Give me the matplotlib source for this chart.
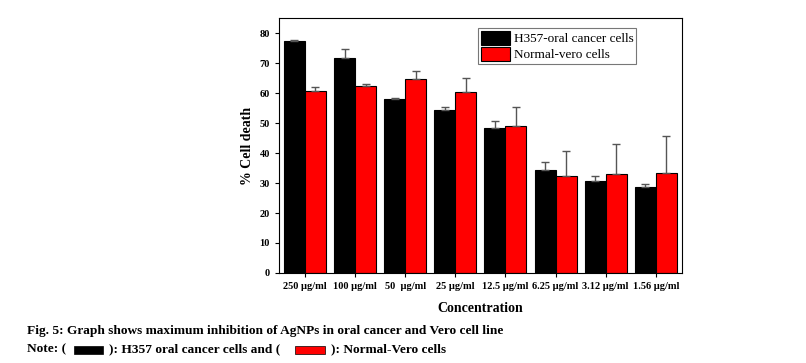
import numpy as np
import matplotlib.pyplot as plt
from matplotlib.patches import Rectangle

# Данные
concentrations = ['250 µg/ml', '100 µg/ml', '50  µg/ml', '25 µg/ml', '12.5 µg/ml',
                  '6.25 µg/ml', '3.12 µg/ml', '1.56 µg/ml']
h357 = [77.3, 71.6, 57.9, 54.2, 48.3, 34.2, 30.7, 28.8]
h357_err = [0.3, 3.2, 0.6, 1.3, 2.4, 2.7, 1.5, 0.8]
vero = [60.8, 62.3, 64.8, 60.3, 48.9, 32.4, 32.9, 33.4]
vero_err = [1.2, 0.6, 2.6, 4.6, 6.4, 8.3, 10.1, 12.3]

plt.rcParams['font.family'] = ['Liberation Serif', 'DejaVu Serif']
plt.rcParams['font.weight'] = 'bold'

fig = plt.figure(figsize=(8.06, 3.63), dpi=100)
ax = fig.add_axes([0.346, 0.248, 0.5, 0.702])

x = np.arange(len(concentrations))
w = 0.42
err_kw = dict(ecolor='#555555', elinewidth=1, capsize=3, capthick=1)

ax.bar(x - w / 2, h357, w, yerr=[np.zeros(len(h357)), h357_err], color='black',
       edgecolor='black', linewidth=0.8, error_kw=err_kw, label='H357-oral cancer cells')
ax.bar(x + w / 2, vero, w, yerr=[np.zeros(len(vero)), vero_err], color='#ff0000',
       edgecolor='black', linewidth=0.8, error_kw=err_kw, label='Normal-vero cells')

ax.set_xlim(-0.52, len(concentrations) - 0.48)
ax.set_ylim(0, 85)
ax.set_yticks(range(0, 81, 10))
ax.set_xticks(x)
ax.set_xticklabels(concentrations, fontsize=7.5, fontweight='bold')
ax.tick_params(axis='y', labelsize=7.5, direction='out', length=3)
ax.tick_params(axis='x', direction='out', length=3)
for lab in ax.get_yticklabels():
    lab.set_fontweight('bold')

ax.set_xlabel('Concentration', fontsize=10, fontweight='bold', labelpad=8)
ax.set_ylabel('% Cell death', fontsize=10, fontweight='bold', labelpad=4)

leg = ax.legend(loc='upper right', bbox_to_anchor=(0.887, 0.96), fontsize=9.5,
                frameon=True, fancybox=False, edgecolor='#555555',
                handlelength=2.2, handleheight=1.2, borderpad=0.2,
                labelspacing=0.15, handletextpad=0.3, borderaxespad=0)
leg.get_frame().set_linewidth(0.8)
for t in leg.get_texts():
    t.set_fontweight('normal')

# Подпись к рисунку
fs = 9.6
fig.text(27 / 806, 1 - 331 / 363, 'Fig. 5: Graph shows maximum inhibition of AgNPs in oral cancer and Vero cell line',
         fontsize=fs, fontweight='bold', va='center')
line2 = 1 - 349 / 363
fig.text(27 / 806, line2, 'Note: (', fontsize=fs, fontweight='bold', va='center')
fig.patches.append(Rectangle((74 / 806, 1 - 354 / 363), 29 / 806, 8 / 363,
                             transform=fig.transFigure, facecolor='black',
                             edgecolor='black', linewidth=0.5))
fig.text(109 / 806, line2, '): H357 oral cancer cells and (', fontsize=fs, fontweight='bold', va='center')
fig.patches.append(Rectangle((295 / 806, 1 - 354 / 363), 30 / 806, 8 / 363,
                             transform=fig.transFigure, facecolor='#ff0000',
                             edgecolor='black', linewidth=0.5))
fig.text(331 / 806, line2, '): Normal-Vero cells', fontsize=fs, fontweight='bold', va='center')

fig.savefig('out.png', dpi=100)
